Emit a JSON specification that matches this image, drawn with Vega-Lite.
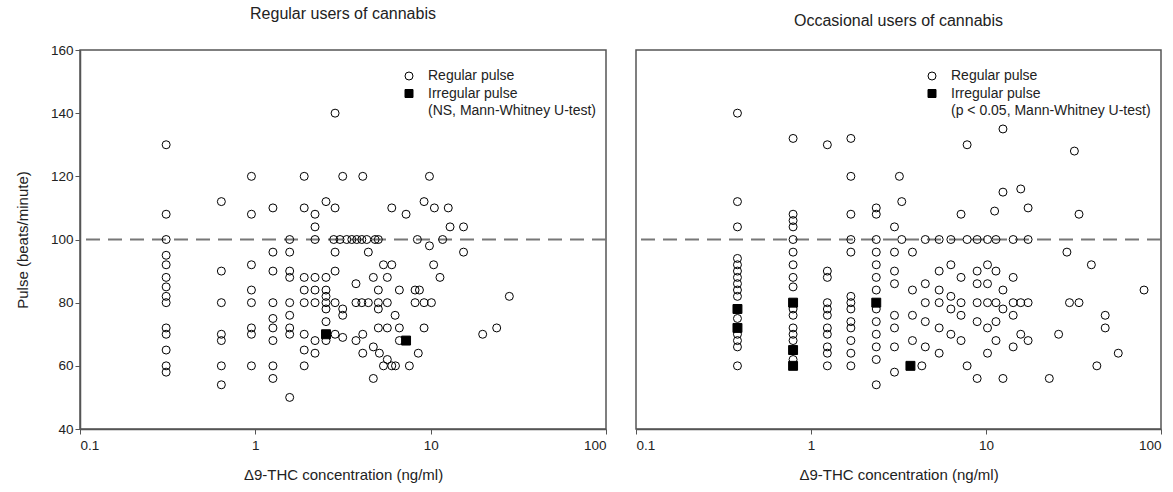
{
  "$schema": "https://vega.github.io/schema/vega-lite/v6.json",
  "background": "white",
  "padding": {"left": 14, "top": 5, "right": 5, "bottom": 5},
  "config": {
    "font": "Liberation Sans",
    "view": {"stroke": "#555", "strokeWidth": 1.5},
    "axis": {"domainColor": "#555", "domainWidth": 1.5, "tickColor": "#555", "labelColor": "#222", "titleColor": "#222", "labelFontSize": 13.5, "titleFontSize": 15, "grid": false, "titleFontWeight": "normal", "tickSize": 5},
    "title": {"fontSize": 16, "fontWeight": "normal", "color": "#222", "offset": 21},
    "legend": {"labelFontSize": 14, "labelColor": "#222", "symbolStrokeWidth": 1, "symbolSize": 64, "rowPadding": 3.5, "labelOffset": 12, "labelLimit": 400}
  },
  "datasets": {
    "regular": [
      {"t": 0.31, "p": 130, "s": "Regular pulse"}, {"t": 0.31, "p": 108, "s": "Regular pulse"}, {"t": 0.31, "p": 100, "s": "Regular pulse"}, {"t": 0.31, "p": 95, "s": "Regular pulse"}, {"t": 0.31, "p": 92, "s": "Regular pulse"}, {"t": 0.31, "p": 88, "s": "Regular pulse"}, {"t": 0.31, "p": 85, "s": "Regular pulse"}, {"t": 0.31, "p": 82, "s": "Regular pulse"}, {"t": 0.31, "p": 80, "s": "Regular pulse"}, {"t": 0.31, "p": 72, "s": "Regular pulse"}, {"t": 0.31, "p": 70, "s": "Regular pulse"}, {"t": 0.31, "p": 65, "s": "Regular pulse"}, {"t": 0.31, "p": 60, "s": "Regular pulse"}, {"t": 0.31, "p": 58, "s": "Regular pulse"},
      {"t": 0.64, "p": 112, "s": "Regular pulse"}, {"t": 0.64, "p": 90, "s": "Regular pulse"}, {"t": 0.64, "p": 80, "s": "Regular pulse"}, {"t": 0.64, "p": 70, "s": "Regular pulse"}, {"t": 0.64, "p": 68, "s": "Regular pulse"}, {"t": 0.64, "p": 60, "s": "Regular pulse"}, {"t": 0.64, "p": 54, "s": "Regular pulse"},
      {"t": 0.95, "p": 120, "s": "Regular pulse"}, {"t": 0.95, "p": 108, "s": "Regular pulse"}, {"t": 0.95, "p": 92, "s": "Regular pulse"}, {"t": 0.95, "p": 84, "s": "Regular pulse"}, {"t": 0.95, "p": 80, "s": "Regular pulse"}, {"t": 0.95, "p": 72, "s": "Regular pulse"}, {"t": 0.95, "p": 70, "s": "Regular pulse"}, {"t": 0.95, "p": 60, "s": "Regular pulse"},
      {"t": 1.26, "p": 110, "s": "Regular pulse"}, {"t": 1.26, "p": 96, "s": "Regular pulse"}, {"t": 1.26, "p": 90, "s": "Regular pulse"}, {"t": 1.26, "p": 80, "s": "Regular pulse"}, {"t": 1.26, "p": 75, "s": "Regular pulse"}, {"t": 1.26, "p": 72, "s": "Regular pulse"}, {"t": 1.26, "p": 68, "s": "Regular pulse"}, {"t": 1.26, "p": 60, "s": "Regular pulse"}, {"t": 1.26, "p": 56, "s": "Regular pulse"},
      {"t": 1.57, "p": 100, "s": "Regular pulse"}, {"t": 1.57, "p": 96, "s": "Regular pulse"}, {"t": 1.57, "p": 90, "s": "Regular pulse"}, {"t": 1.57, "p": 88, "s": "Regular pulse"}, {"t": 1.57, "p": 80, "s": "Regular pulse"}, {"t": 1.57, "p": 76, "s": "Regular pulse"}, {"t": 1.57, "p": 72, "s": "Regular pulse"}, {"t": 1.57, "p": 70, "s": "Regular pulse"}, {"t": 1.57, "p": 50, "s": "Regular pulse"},
      {"t": 1.9, "p": 120, "s": "Regular pulse"}, {"t": 1.9, "p": 110, "s": "Regular pulse"}, {"t": 1.9, "p": 88, "s": "Regular pulse"}, {"t": 1.9, "p": 84, "s": "Regular pulse"}, {"t": 1.9, "p": 80, "s": "Regular pulse"}, {"t": 1.9, "p": 70, "s": "Regular pulse"}, {"t": 1.9, "p": 65, "s": "Regular pulse"}, {"t": 1.9, "p": 60, "s": "Regular pulse"},
      {"t": 2.19, "p": 108, "s": "Regular pulse"}, {"t": 2.19, "p": 104, "s": "Regular pulse"}, {"t": 2.19, "p": 100, "s": "Regular pulse"}, {"t": 2.19, "p": 88, "s": "Regular pulse"}, {"t": 2.19, "p": 84, "s": "Regular pulse"}, {"t": 2.19, "p": 80, "s": "Regular pulse"}, {"t": 2.19, "p": 68, "s": "Regular pulse"}, {"t": 2.19, "p": 64, "s": "Regular pulse"},
      {"t": 2.53, "p": 112, "s": "Regular pulse"}, {"t": 2.53, "p": 88, "s": "Regular pulse"}, {"t": 2.53, "p": 84, "s": "Regular pulse"}, {"t": 2.53, "p": 82, "s": "Regular pulse"}, {"t": 2.53, "p": 80, "s": "Regular pulse"}, {"t": 2.53, "p": 78, "s": "Regular pulse"}, {"t": 2.53, "p": 74, "s": "Regular pulse"}, {"t": 2.53, "p": 68, "s": "Regular pulse"}, {"t": 2.53, "p": 70, "s": "Irregular pulse"},
      {"t": 2.8, "p": 100, "s": "Regular pulse"}, {"t": 2.85, "p": 140, "s": "Regular pulse"}, {"t": 2.85, "p": 110, "s": "Regular pulse"}, {"t": 2.85, "p": 96, "s": "Regular pulse"}, {"t": 2.85, "p": 90, "s": "Regular pulse"}, {"t": 2.85, "p": 80, "s": "Regular pulse"}, {"t": 2.85, "p": 70, "s": "Regular pulse"},
      {"t": 3.04, "p": 100, "s": "Regular pulse"}, {"t": 3.15, "p": 120, "s": "Regular pulse"}, {"t": 3.15, "p": 78, "s": "Regular pulse"}, {"t": 3.15, "p": 76, "s": "Regular pulse"}, {"t": 3.15, "p": 69, "s": "Regular pulse"},
      {"t": 3.32, "p": 100, "s": "Regular pulse"}, {"t": 3.55, "p": 100, "s": "Regular pulse"}, {"t": 3.79, "p": 100, "s": "Regular pulse"}, {"t": 3.75, "p": 86, "s": "Regular pulse"}, {"t": 3.75, "p": 80, "s": "Regular pulse"}, {"t": 3.75, "p": 68, "s": "Regular pulse"},
      {"t": 4.05, "p": 100, "s": "Regular pulse"}, {"t": 4.05, "p": 80, "s": "Regular pulse"}, {"t": 4.1, "p": 120, "s": "Regular pulse"}, {"t": 4.1, "p": 70, "s": "Regular pulse"}, {"t": 4.1, "p": 64, "s": "Regular pulse"},
      {"t": 4.32, "p": 100, "s": "Regular pulse"}, {"t": 4.41, "p": 96, "s": "Regular pulse"}, {"t": 4.41, "p": 80, "s": "Regular pulse"},
      {"t": 4.71, "p": 88, "s": "Regular pulse"}, {"t": 4.71, "p": 66, "s": "Regular pulse"}, {"t": 4.71, "p": 56, "s": "Regular pulse"}, {"t": 4.82, "p": 100, "s": "Regular pulse"},
      {"t": 5.03, "p": 100, "s": "Regular pulse"}, {"t": 5.03, "p": 84, "s": "Regular pulse"}, {"t": 5.03, "p": 80, "s": "Regular pulse"}, {"t": 5.03, "p": 78, "s": "Regular pulse"}, {"t": 5.03, "p": 72, "s": "Regular pulse"}, {"t": 5.1, "p": 64, "s": "Regular pulse"},
      {"t": 5.38, "p": 92, "s": "Regular pulse"}, {"t": 5.38, "p": 60, "s": "Regular pulse"},
      {"t": 5.66, "p": 88, "s": "Regular pulse"}, {"t": 5.66, "p": 80, "s": "Regular pulse"}, {"t": 5.66, "p": 72, "s": "Regular pulse"}, {"t": 5.66, "p": 62, "s": "Regular pulse"},
      {"t": 6.0, "p": 110, "s": "Regular pulse"}, {"t": 6.0, "p": 92, "s": "Regular pulse"}, {"t": 6.0, "p": 60, "s": "Regular pulse"}, {"t": 6.27, "p": 76, "s": "Regular pulse"}, {"t": 6.3, "p": 60, "s": "Regular pulse"},
      {"t": 6.63, "p": 84, "s": "Regular pulse"}, {"t": 6.63, "p": 72, "s": "Regular pulse"}, {"t": 6.63, "p": 68, "s": "Regular pulse"},
      {"t": 7.24, "p": 108, "s": "Regular pulse"}, {"t": 7.24, "p": 68, "s": "Irregular pulse"}, {"t": 7.56, "p": 60, "s": "Regular pulse"},
      {"t": 8.15, "p": 84, "s": "Regular pulse"}, {"t": 8.15, "p": 80, "s": "Regular pulse"}, {"t": 8.4, "p": 100, "s": "Regular pulse"}, {"t": 8.5, "p": 64, "s": "Regular pulse"}, {"t": 8.63, "p": 84, "s": "Regular pulse"},
      {"t": 9.17, "p": 112, "s": "Regular pulse"}, {"t": 9.17, "p": 80, "s": "Regular pulse"}, {"t": 9.17, "p": 72, "s": "Regular pulse"},
      {"t": 9.84, "p": 120, "s": "Regular pulse"}, {"t": 9.84, "p": 98, "s": "Regular pulse"}, {"t": 10.1, "p": 80, "s": "Regular pulse"}, {"t": 10.4, "p": 92, "s": "Regular pulse"}, {"t": 10.5, "p": 110, "s": "Regular pulse"},
      {"t": 11.3, "p": 88, "s": "Regular pulse"}, {"t": 11.7, "p": 100, "s": "Regular pulse"}, {"t": 12.6, "p": 110, "s": "Regular pulse"}, {"t": 12.9, "p": 104, "s": "Regular pulse"},
      {"t": 15.4, "p": 104, "s": "Regular pulse"}, {"t": 15.4, "p": 96, "s": "Regular pulse"}, {"t": 19.8, "p": 70, "s": "Regular pulse"}, {"t": 23.8, "p": 72, "s": "Regular pulse"}, {"t": 28.1, "p": 82, "s": "Regular pulse"}
    ],
    "occasional": [
      {"t": 0.38, "p": 140, "s": "Regular pulse"}, {"t": 0.38, "p": 112, "s": "Regular pulse"}, {"t": 0.38, "p": 104, "s": "Regular pulse"}, {"t": 0.38, "p": 94, "s": "Regular pulse"}, {"t": 0.38, "p": 92, "s": "Regular pulse"}, {"t": 0.38, "p": 90, "s": "Regular pulse"}, {"t": 0.38, "p": 88, "s": "Regular pulse"}, {"t": 0.38, "p": 86, "s": "Regular pulse"}, {"t": 0.38, "p": 84, "s": "Regular pulse"}, {"t": 0.38, "p": 82, "s": "Regular pulse"}, {"t": 0.38, "p": 75, "s": "Regular pulse"}, {"t": 0.38, "p": 70, "s": "Regular pulse"}, {"t": 0.38, "p": 68, "s": "Regular pulse"}, {"t": 0.38, "p": 66, "s": "Regular pulse"}, {"t": 0.38, "p": 60, "s": "Regular pulse"}, {"t": 0.38, "p": 78, "s": "Irregular pulse"}, {"t": 0.38, "p": 72, "s": "Irregular pulse"},
      {"t": 0.79, "p": 132, "s": "Regular pulse"}, {"t": 0.79, "p": 108, "s": "Regular pulse"}, {"t": 0.79, "p": 106, "s": "Regular pulse"}, {"t": 0.79, "p": 104, "s": "Regular pulse"}, {"t": 0.79, "p": 100, "s": "Regular pulse"}, {"t": 0.79, "p": 96, "s": "Regular pulse"}, {"t": 0.79, "p": 92, "s": "Regular pulse"}, {"t": 0.79, "p": 88, "s": "Regular pulse"}, {"t": 0.79, "p": 85, "s": "Regular pulse"}, {"t": 0.79, "p": 78, "s": "Regular pulse"}, {"t": 0.79, "p": 76, "s": "Regular pulse"}, {"t": 0.79, "p": 72, "s": "Regular pulse"}, {"t": 0.79, "p": 70, "s": "Regular pulse"}, {"t": 0.79, "p": 68, "s": "Regular pulse"}, {"t": 0.79, "p": 62, "s": "Regular pulse"}, {"t": 0.79, "p": 80, "s": "Irregular pulse"}, {"t": 0.79, "p": 65, "s": "Irregular pulse"}, {"t": 0.79, "p": 60, "s": "Irregular pulse"},
      {"t": 1.24, "p": 130, "s": "Regular pulse"}, {"t": 1.24, "p": 90, "s": "Regular pulse"}, {"t": 1.24, "p": 88, "s": "Regular pulse"}, {"t": 1.24, "p": 80, "s": "Regular pulse"}, {"t": 1.24, "p": 78, "s": "Regular pulse"}, {"t": 1.24, "p": 76, "s": "Regular pulse"}, {"t": 1.24, "p": 72, "s": "Regular pulse"}, {"t": 1.24, "p": 70, "s": "Regular pulse"}, {"t": 1.24, "p": 66, "s": "Regular pulse"}, {"t": 1.24, "p": 64, "s": "Regular pulse"}, {"t": 1.24, "p": 60, "s": "Regular pulse"},
      {"t": 1.69, "p": 132, "s": "Regular pulse"}, {"t": 1.69, "p": 120, "s": "Regular pulse"}, {"t": 1.69, "p": 108, "s": "Regular pulse"}, {"t": 1.69, "p": 100, "s": "Regular pulse"}, {"t": 1.69, "p": 96, "s": "Regular pulse"}, {"t": 1.69, "p": 82, "s": "Regular pulse"}, {"t": 1.69, "p": 80, "s": "Regular pulse"}, {"t": 1.69, "p": 78, "s": "Regular pulse"}, {"t": 1.69, "p": 74, "s": "Regular pulse"}, {"t": 1.69, "p": 72, "s": "Regular pulse"}, {"t": 1.69, "p": 68, "s": "Regular pulse"}, {"t": 1.69, "p": 64, "s": "Regular pulse"}, {"t": 1.69, "p": 60, "s": "Regular pulse"},
      {"t": 2.36, "p": 110, "s": "Regular pulse"}, {"t": 2.36, "p": 108, "s": "Regular pulse"}, {"t": 2.36, "p": 100, "s": "Regular pulse"}, {"t": 2.36, "p": 96, "s": "Regular pulse"}, {"t": 2.36, "p": 92, "s": "Regular pulse"}, {"t": 2.36, "p": 88, "s": "Regular pulse"}, {"t": 2.36, "p": 84, "s": "Regular pulse"}, {"t": 2.36, "p": 78, "s": "Regular pulse"}, {"t": 2.36, "p": 74, "s": "Regular pulse"}, {"t": 2.36, "p": 70, "s": "Regular pulse"}, {"t": 2.36, "p": 66, "s": "Regular pulse"}, {"t": 2.36, "p": 62, "s": "Regular pulse"}, {"t": 2.36, "p": 80, "s": "Irregular pulse"}, {"t": 2.36, "p": 54, "s": "Regular pulse"},
      {"t": 3.2, "p": 120, "s": "Regular pulse"}, {"t": 3.3, "p": 112, "s": "Regular pulse"}, {"t": 3.0, "p": 104, "s": "Regular pulse"}, {"t": 3.0, "p": 96, "s": "Regular pulse"}, {"t": 3.0, "p": 90, "s": "Regular pulse"}, {"t": 3.0, "p": 86, "s": "Regular pulse"}, {"t": 3.0, "p": 76, "s": "Regular pulse"}, {"t": 3.0, "p": 72, "s": "Regular pulse"}, {"t": 3.0, "p": 66, "s": "Regular pulse"}, {"t": 3.0, "p": 58, "s": "Regular pulse"}, {"t": 3.3, "p": 100, "s": "Regular pulse"},
      {"t": 3.7, "p": 60, "s": "Irregular pulse"}, {"t": 4.3, "p": 60, "s": "Regular pulse"},
      {"t": 3.8, "p": 96, "s": "Regular pulse"}, {"t": 3.8, "p": 84, "s": "Regular pulse"}, {"t": 3.8, "p": 76, "s": "Regular pulse"}, {"t": 3.8, "p": 68, "s": "Regular pulse"},
      {"t": 4.5, "p": 100, "s": "Regular pulse"}, {"t": 4.5, "p": 86, "s": "Regular pulse"}, {"t": 4.5, "p": 80, "s": "Regular pulse"}, {"t": 4.5, "p": 74, "s": "Regular pulse"}, {"t": 4.5, "p": 66, "s": "Regular pulse"},
      {"t": 5.4, "p": 100, "s": "Regular pulse"}, {"t": 5.4, "p": 90, "s": "Regular pulse"}, {"t": 5.4, "p": 84, "s": "Regular pulse"}, {"t": 5.4, "p": 80, "s": "Regular pulse"}, {"t": 5.4, "p": 72, "s": "Regular pulse"}, {"t": 5.4, "p": 64, "s": "Regular pulse"},
      {"t": 6.3, "p": 100, "s": "Regular pulse"}, {"t": 6.3, "p": 92, "s": "Regular pulse"}, {"t": 6.3, "p": 82, "s": "Regular pulse"}, {"t": 6.3, "p": 78, "s": "Regular pulse"}, {"t": 6.3, "p": 70, "s": "Regular pulse"},
      {"t": 7.8, "p": 130, "s": "Regular pulse"}, {"t": 7.2, "p": 108, "s": "Regular pulse"}, {"t": 7.8, "p": 100, "s": "Regular pulse"}, {"t": 7.2, "p": 88, "s": "Regular pulse"}, {"t": 7.2, "p": 80, "s": "Regular pulse"}, {"t": 7.2, "p": 76, "s": "Regular pulse"}, {"t": 7.2, "p": 68, "s": "Regular pulse"}, {"t": 7.8, "p": 60, "s": "Regular pulse"},
      {"t": 8.9, "p": 100, "s": "Regular pulse"}, {"t": 8.9, "p": 90, "s": "Regular pulse"}, {"t": 8.9, "p": 86, "s": "Regular pulse"}, {"t": 8.9, "p": 80, "s": "Regular pulse"}, {"t": 8.9, "p": 74, "s": "Regular pulse"}, {"t": 8.9, "p": 56, "s": "Regular pulse"},
      {"t": 10.2, "p": 100, "s": "Regular pulse"}, {"t": 10.2, "p": 92, "s": "Regular pulse"}, {"t": 10.2, "p": 86, "s": "Regular pulse"}, {"t": 10.2, "p": 80, "s": "Regular pulse"}, {"t": 10.2, "p": 72, "s": "Regular pulse"}, {"t": 10.2, "p": 64, "s": "Regular pulse"},
      {"t": 11.2, "p": 109, "s": "Regular pulse"}, {"t": 11.4, "p": 100, "s": "Regular pulse"}, {"t": 11.4, "p": 90, "s": "Regular pulse"}, {"t": 11.4, "p": 80, "s": "Regular pulse"}, {"t": 11.4, "p": 74, "s": "Regular pulse"}, {"t": 11.4, "p": 68, "s": "Regular pulse"},
      {"t": 12.5, "p": 135, "s": "Regular pulse"}, {"t": 12.5, "p": 115, "s": "Regular pulse"}, {"t": 12.5, "p": 84, "s": "Regular pulse"}, {"t": 12.5, "p": 78, "s": "Regular pulse"}, {"t": 12.5, "p": 56, "s": "Regular pulse"},
      {"t": 14.3, "p": 100, "s": "Regular pulse"}, {"t": 14.3, "p": 88, "s": "Regular pulse"}, {"t": 14.3, "p": 80, "s": "Regular pulse"}, {"t": 14.3, "p": 76, "s": "Regular pulse"}, {"t": 14.3, "p": 66, "s": "Regular pulse"},
      {"t": 15.8, "p": 116, "s": "Regular pulse"}, {"t": 15.8, "p": 80, "s": "Regular pulse"}, {"t": 15.8, "p": 70, "s": "Regular pulse"},
      {"t": 17.4, "p": 110, "s": "Regular pulse"}, {"t": 17.4, "p": 100, "s": "Regular pulse"}, {"t": 17.4, "p": 80, "s": "Regular pulse"}, {"t": 17.4, "p": 68, "s": "Regular pulse"},
      {"t": 23, "p": 56, "s": "Regular pulse"}, {"t": 26, "p": 70, "s": "Regular pulse"},
      {"t": 29, "p": 96, "s": "Regular pulse"}, {"t": 30, "p": 80, "s": "Regular pulse"}, {"t": 32, "p": 128, "s": "Regular pulse"}, {"t": 34, "p": 108, "s": "Regular pulse"}, {"t": 34, "p": 80, "s": "Regular pulse"},
      {"t": 40, "p": 92, "s": "Regular pulse"}, {"t": 43, "p": 60, "s": "Regular pulse"}, {"t": 48, "p": 76, "s": "Regular pulse"}, {"t": 48, "p": 72, "s": "Regular pulse"}, {"t": 57, "p": 64, "s": "Regular pulse"}, {"t": 80, "p": 84, "s": "Regular pulse"}
    ]
  },
  "spacing": 26,
  "hconcat": [
    {
      "width": 526,
      "height": 379,
      "title": {"text": "Regular users of cannabis"},
      "layer": [
        {
          "data": {"values": [{}]},
          "mark": {"type": "rule", "strokeDash": [14, 8], "strokeWidth": 2, "color": "#777"},
          "encoding": {"y": {"datum": 100, "type": "quantitative", "scale": {"domain": [40, 160]}}}
        },
        {
          "data": {"name": "regular"},
          "mark": {"type": "point", "filled": true, "strokeWidth": 1, "opacity": 1},
          "encoding": {
            "x": {"field": "t", "type": "quantitative", "scale": {"type": "log", "domain": [0.1, 100]}, "axis": {"values": [0.1, 1, 10, 100], "format": "~g", "title": "Δ9-THC concentration (ng/ml)", "titlePadding": 16, "labelPadding": 4}},
            "y": {"field": "p", "type": "quantitative", "scale": {"domain": [40, 160]}, "axis": {"values": [40, 60, 80, 100, 120, 140, 160], "title": "Pulse (beats/minute)", "titlePadding": 20}},
            "shape": {"field": "s", "type": "nominal", "scale": {"domain": ["Regular pulse", "Irregular pulse", "(NS, Mann-Whitney U-test)"], "range": ["circle", "square", "circle"]}, "legend": {"title": null, "orient": "none", "legendX": 322, "legendY": 19}},
            "fill": {"field": "s", "type": "nominal", "scale": {"domain": ["Regular pulse", "Irregular pulse", "(NS, Mann-Whitney U-test)"], "range": ["rgba(255,255,255,0)", "black", "rgba(255,255,255,0)"]}, "legend": {"title": null, "orient": "none", "legendX": 322, "legendY": 19}},
            "stroke": {"field": "s", "type": "nominal", "scale": {"domain": ["Regular pulse", "Irregular pulse", "(NS, Mann-Whitney U-test)"], "range": ["black", "black", "rgba(255,255,255,0)"]}, "legend": {"title": null, "orient": "none", "legendX": 322, "legendY": 19}},
            "size": {"condition": {"test": "datum.s === 'Irregular pulse'", "value": 80}, "value": 64}
          }
        }
      ]
    },
    {
      "width": 525,
      "height": 379,
      "title": {"text": "Occasional users of cannabis"},
      "layer": [
        {
          "data": {"values": [{}]},
          "mark": {"type": "rule", "strokeDash": [14, 8], "strokeWidth": 2, "color": "#777"},
          "encoding": {"y": {"datum": 100, "type": "quantitative", "scale": {"domain": [40, 160]}, "axis": null}}
        },
        {
          "data": {"name": "occasional"},
          "mark": {"type": "point", "filled": true, "strokeWidth": 1, "opacity": 1},
          "encoding": {
            "x": {"field": "t", "type": "quantitative", "scale": {"type": "log", "domain": [0.1, 100]}, "axis": {"values": [0.1, 1, 10, 100], "format": "~g", "title": "Δ9-THC concentration (ng/ml)", "titlePadding": 16, "labelPadding": 4}},
            "y": {"field": "p", "type": "quantitative", "scale": {"domain": [40, 160]}, "axis": null},
            "shape": {"field": "s", "type": "nominal", "scale": {"domain": ["Regular pulse", "Irregular pulse", "(p < 0.05, Mann-Whitney U-test)"], "range": ["circle", "square", "circle"]}, "legend": {"title": null, "orient": "none", "legendX": 289, "legendY": 19}},
            "fill": {"field": "s", "type": "nominal", "scale": {"domain": ["Regular pulse", "Irregular pulse", "(p < 0.05, Mann-Whitney U-test)"], "range": ["rgba(255,255,255,0)", "black", "rgba(255,255,255,0)"]}, "legend": {"title": null, "orient": "none", "legendX": 289, "legendY": 19}},
            "stroke": {"field": "s", "type": "nominal", "scale": {"domain": ["Regular pulse", "Irregular pulse", "(p < 0.05, Mann-Whitney U-test)"], "range": ["black", "black", "rgba(255,255,255,0)"]}, "legend": {"title": null, "orient": "none", "legendX": 289, "legendY": 19}},
            "size": {"condition": {"test": "datum.s === 'Irregular pulse'", "value": 80}, "value": 64}
          }
        }
      ]
    }
  ],
  "resolve": {"scale": {"shape": "independent", "fill": "independent", "stroke": "independent"}, "legend": {"shape": "independent", "fill": "independent", "stroke": "independent"}}
}
